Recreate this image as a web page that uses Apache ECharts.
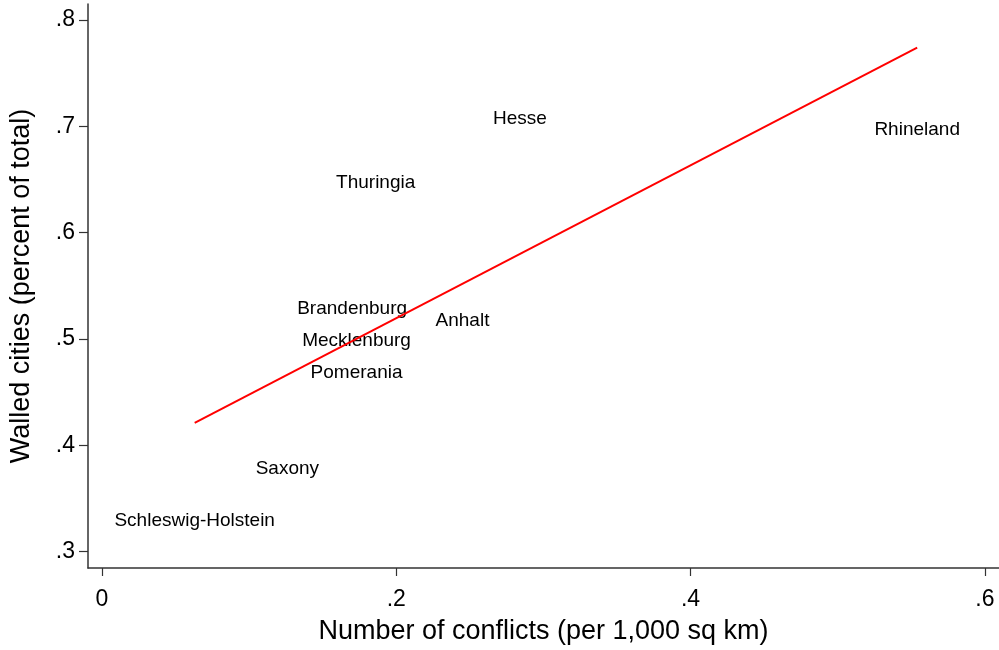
<!DOCTYPE html>
<html>
<head>
<meta charset="utf-8">
<script src="https://cdn.jsdelivr.net/npm/echarts@6/dist/echarts.min.js"></script>
<style>
  html, body { margin: 0; padding: 0; background: #fff; }
</style>
</head>
<body>
<div id="chart" style="width: 999px; height: 650px;"></div>
<script>
// states, conflicts per 1,000 sq km, share of walled cities
const regions = ['Schleswig-Holstein', 'Saxony', 'Pomerania', 'Mecklenburg', 'Brandenburg', 'Anhalt', 'Thuringia', 'Hesse', 'Rhineland']
const conflicts = [0.063, 0.126, 0.173, 0.173, 0.170, 0.245, 0.186, 0.284, 0.554]
const walled = [0.331, 0.380, 0.470, 0.500, 0.530, 0.519, 0.649, 0.709, 0.699]
// fitted line end points
const fitX = [0.063, 0.554]
const fitY = [0.421, 0.774]
const xTicks = [0, 0.2, 0.4, 0.6]
const yTicks = [0.3, 0.4, 0.5, 0.6, 0.7, 0.8]

const fmt = v => (v === 0 ? '0' : String(+v.toFixed(1)).replace(/^0/, ''))

const chart = echarts.init(document.getElementById('chart'))
const font = 'Liberation Sans, Arial, sans-serif'
chart.setOption({
  animation: false,
  backgroundColor: '#fff',
  textStyle: { fontFamily: font, color: '#000' },
  grid: { left: 87, right: 0, top: 4, bottom: 80 },
  xAxis: {
    type: 'value',
    min: -0.0095,
    max: 0.6096,
    name: 'Number of conflicts (per 1,000 sq km)',
    nameLocation: 'middle',
    nameGap: 50,
    nameTextStyle: { fontSize: 27, color: '#000', fontFamily: font },
    axisLine: { show: true, onZero: false, lineStyle: { color: '#333', width: 1.5 } },
    axisTick: { show: true, customValues: xTicks, length: 8, lineStyle: { color: '#333', width: 1.2 } },
    axisLabel: { customValues: xTicks, formatter: fmt, fontSize: 23, color: '#000', margin: 20, fontFamily: font },
    splitLine: { show: false }
  },
  yAxis: {
    type: 'value',
    min: 0.2845,
    max: 0.815,
    name: 'Walled cities (percent of total)',
    nameLocation: 'middle',
    nameGap: 53,
    nameTextStyle: { fontSize: 27, color: '#000', fontFamily: font },
    axisLine: { show: true, onZero: false, lineStyle: { color: '#333', width: 1.5 } },
    axisTick: { show: true, customValues: yTicks, length: 9, lineStyle: { color: '#333', width: 1.2 } },
    axisLabel: { customValues: yTicks, formatter: fmt, fontSize: 23, color: '#000', margin: 13, fontFamily: font },
    splitLine: { show: false }
  },
  series: [
    {
      type: 'scatter',
      symbolSize: 0,
      itemStyle: { opacity: 1 },
      data: regions.map((r, i) => ({ name: r, value: [conflicts[i], walled[i]] })),
      label: {
        show: true,
        position: [0, 0],
        offset: [0, 2],
        align: 'center',
        verticalAlign: 'middle',
        formatter: p => p.name,
        fontSize: 19,
        color: '#000',
        opacity: 1,
        textBorderWidth: 0,
        fontFamily: font
      }
    },
    {
      type: 'line',
      symbol: 'none',
      data: fitX.map((x, i) => [x, fitY[i]]),
      lineStyle: { color: '#ff0000', width: 2 },
      z: 3
    }
  ]
})
</script>
</body>
</html>
